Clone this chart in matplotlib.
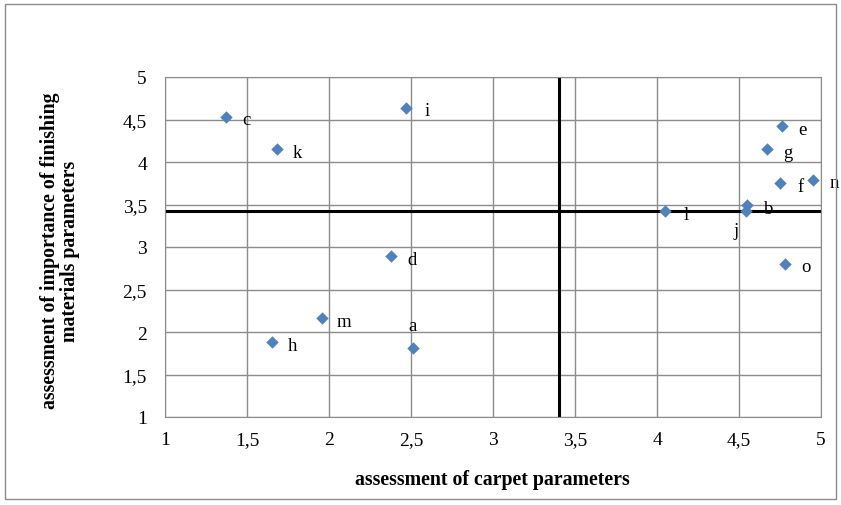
import matplotlib.pyplot as plt
from matplotlib.patches import Rectangle

plt.rcParams["font.family"] = ["Liberation Serif", "DejaVu Serif"]

# data
names = ["c", "k", "i", "d", "m", "h", "a", "l", "j", "b", "e", "g", "f", "n", "o"]
carpet = [1.37, 1.68, 2.47, 2.38, 1.96, 1.65, 2.51, 4.05, 4.54, 4.55, 4.76, 4.67, 4.75, 4.95, 4.78]
finishing = [4.53, 4.15, 4.64, 2.89, 2.16, 1.88, 1.81, 3.42, 3.42, 3.49, 4.42, 4.15, 3.75, 3.79, 2.80]
x_mean = 3.40
y_mean = 3.42
ticks = [1, 1.5, 2, 2.5, 3, 3.5, 4, 4.5, 5]
tick_labels = ["1", "1,5", "2", "2,5", "3", "3,5", "4", "4,5", "5"]

# label offsets in pixels (default to the right)
offsets = {"a": (0, 23), "j": (-9, -19)}

fig = plt.figure(figsize=(8.41, 5.06), dpi=100)
ax = fig.add_axes([165 / 841, 1 - 418 / 506, 656 / 841, 340 / 506])

ax.set_xlim(1, 5)
ax.set_ylim(1, 5)
ax.set_xticks(ticks)
ax.set_yticks(ticks)
ax.set_xticklabels(tick_labels)
ax.set_yticklabels(tick_labels)
ax.tick_params(length=0, labelsize=14)
ax.tick_params(axis="x", pad=10)
ax.tick_params(axis="y", pad=13)
ax.grid(True, color="#8c8c8c", linewidth=1)
ax.set_axisbelow(True)
for s in ax.spines.values():
    s.set_color("#8c8c8c")

ax.axvline(x_mean, color="black", linewidth=2.2, zorder=2)
ax.axhline(y_mean, color="black", linewidth=2.2, zorder=2)

ax.scatter(carpet, finishing, marker="D", s=40, color="#4f81bd", zorder=3, linewidths=0)

for n, x, y in zip(names, carpet, finishing):
    dx, dy = offsets.get(n, (21, -3))
    ax.annotate(n, (x, y), xytext=(dx, dy), textcoords="offset pixels",
                ha="center", va="center", fontsize=13.5, annotation_clip=False)

fig.text(492 / 841, 1 - 480 / 506, "assessment of carpet parameters",
         fontsize=14.3, fontweight="bold", ha="center", va="center")
fig.text(60 / 841, 1 - 251 / 506, "assessment of importance of finishing\nmaterials parameters",
         fontsize=14.3, fontweight="bold", ha="center", va="center", rotation=90,
         multialignment="center", linespacing=1.05)

fig.patches.append(Rectangle((5 / 841, 6 / 506), 831 / 841, 495 / 506, transform=fig.transFigure,
                             fill=False, edgecolor="#8c8c8c", linewidth=1))

fig.savefig("out.png", dpi=100)
